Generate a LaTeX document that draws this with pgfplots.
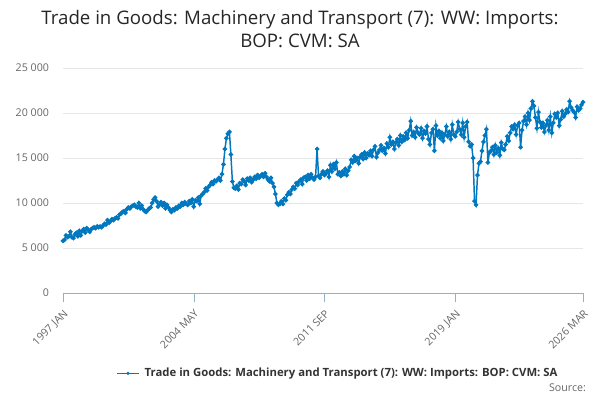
\documentclass[border=0pt]{standalone}
\usepackage{pgfplots}
\pgfplotsset{compat=1.18}
\usepackage{fontspec}
\setmainfont{Open Sans}
\definecolor{ln}{RGB}{0,119,190}
\definecolor{gr}{RGB}{230,230,230}
\definecolor{tk}{RGB}{102,102,102}
\begin{document}
\begin{tikzpicture}[x=1pt,y=1pt]
\useasboundingbox (0,0) rectangle (450,300);
\begin{axis}[at={(47.25pt,80.25pt)},anchor=south west,scale only axis,
 width=390pt,height=168.75pt,xmin=0,xmax=350,ymin=0,ymax=25000,
 scaled y ticks=false,
 axis y line=left, y axis line style={draw=none},
 axis x line*=bottom, x axis line style={draw=ln!40!gray!60},
 ytick={0,5000,10000,15000,20000,25000},
 yticklabels={0,5 000,10 000,15 000,20 000,25 000},
 ymajorgrids, grid style={gr}, major y tick style={draw=none},
 xtick={0,88,176,264,350},
 xticklabels={1997 JAN,2004 MAY,2011 SEP,2019 JAN,2026 MAR},
 x tick label style={rotate=45,anchor=north east,font=\fontsize{8}{9}\selectfont,color=tk},
 y tick label style={font=\fontsize{8}{9}\selectfont,color=tk},
 major x tick style={draw=ln!40!gray!60}, tick align=outside, major tick length=7pt,
 minor x tick num=0,
 clip=false]
\addplot[color=ln,line width=1.1pt,mark=*,mark size=1.1pt] table[x expr=\coordindex,y index=0,header=false] {
5800
5900
6400
6200
6300
6800
6200
6100
6500
6700
6300
6900
6400
6900
7100
6700
7200
7000
6800
7100
7200
7300
7200
7400
7300
7400
7300
7500
7700
7600
8100
7800
8000
8200
8100
8300
8400
8300
8700
8800
9000
9100
8900
9300
9500
9400
9600
9700
9800
9600
9500
10000
9400
9700
9300
9100
9000
9200
9400
9500
10000
10400
10600
10200
9600
9900
10100
9700
10000
9400
9800
9500
9200
9000
9300
9200
9500
9400
9700
9600
10000
9800
10100
9900
9800
10200
10000
10400
9600
10300
10200
10600
9900
10800
11000
11200
11600
11400
11800
12000
12300
12100
12500
12400
12600
12800
12500
13200
14300
16000
17200
17700
17900
15400
12400
11700
11600
11900
11500
12200
12100
12600
12400
12000
12700
12500
12800
12300
12600
12900
12700
13100
12800
13000
13200
12900
13300
12900
12600
12400
12800
12200
11800
11000
10000
9800
9900
10200
9900
10500
10300
10900
11200
11000
11500
11800
11600
12200
12000
12400
12600
12100
12800
12900
12500
13100
12700
13200
12800
12600
12900
16000
13000
12800
13200
13500
13100
13300
13600
12900
14200
13500
14300
13800
14500
13200
13400
13000
13500
13200
13800
13100
13600
14000
14800
14500
15200
14700
15000
14400
15100
15400
14900
15600
15000
15500
15300
15800
15200
15900
16300
15100
15600
15900
16400
15800
16100
15500
16600
16200
17300
16500
16800
16000
16700
17100
16400
17500
16800
17400
17000
17800
17200
18100
19100
17500
17900
17300
18400
17800
17600
18300
17200
18000
17700
18500
17100
16500
17800
18200
15800
18600
17500
18000
17200
17800
16900
17600
18500
17400
17900
17100
18700
17600
17400
17900
19000
18200
17600
18900
17300
18500
19000
16800
16300
16500
15000
10200
9800
13100
14400
14600
15800
16800
17500
18200
14500
15600
15800
16200
15400
16400
15600
16100
15300
16700
16000
15900
16500
17400
16900
17800
18500
18200
18700
17600
18600
18900
16200
18100
19100
19600
18700
20000
19200
20500
21300
20800
19500
18300
20100
19000
18400
18900
17900
18600
19200
18100
19600
17800
18900
19900
19500
20000
18600
19300
20200
19600
19900
20400
20100
21300
20600
20300
20100
19500
20700
20300
20500
20900
21200
};
\end{axis}
\node[font=\fontsize{14}{17}\selectfont,align=center,text=black!85] at (225,278) {Trade in Goods: Machinery and Transport (7): WW: Imports:\\BOP: CVM: SA};
\draw[ln,line width=1.1pt] (88,20) -- (104,20);
\fill[ln] (96,20) circle (1.3pt);
\node[font=\bfseries\fontsize{8.5}{10}\selectfont,anchor=west,text=black!80] at (105,20) {Trade in Goods: Machinery and Transport (7): WW: Imports: BOP: CVM: SA};
\node[font=\fontsize{8}{10}\selectfont,anchor=east,text=tk] at (443,9) {Source:};
\end{tikzpicture}
\end{document}
